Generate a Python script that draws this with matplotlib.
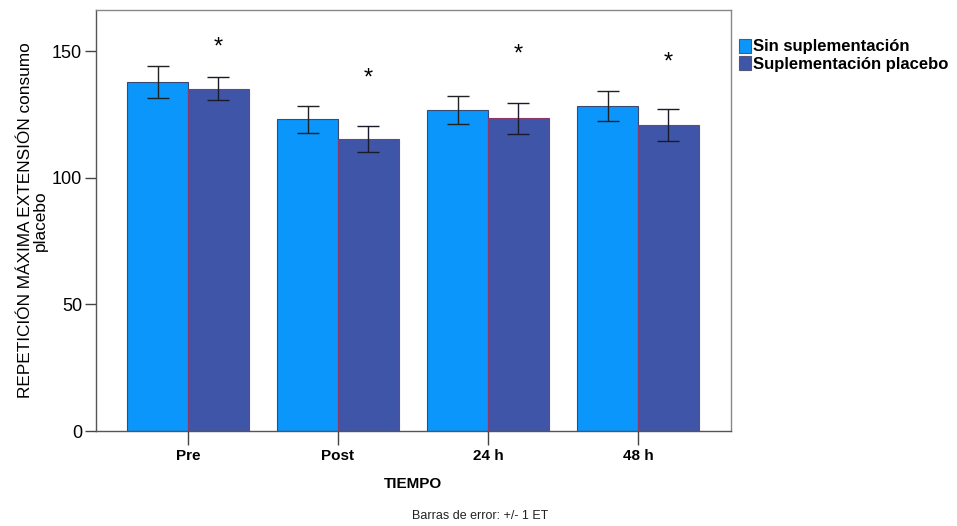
import matplotlib
matplotlib.use("Agg")
import matplotlib.pyplot as plt
import numpy as np

plt.rcParams['font.family'] = ['Liberation Sans', 'DejaVu Sans']

categories = ["Pre", "Post", "24 h", "48 h"]
series_names = ["Sin suplementación", "Suplementación placebo"]
sin_supl = [137.6, 123.0, 126.7, 128.3]
sin_supl_err = [6.3, 5.3, 5.5, 5.8]
placebo = [135.2, 115.4, 123.4, 120.8]
placebo_err = [4.6, 5.1, 6.2, 6.3]
# heights of the significance marks above each group
star_y = [151.2, 139.0, 148.5, 145.5]

c_light = "#0A96FA"
c_dark = "#3F56A8"

fig = plt.figure(figsize=(9.57, 5.26), dpi=100)
ax = fig.add_axes([96 / 957, 1 - 431 / 526, (731 - 96) / 957, (431 - 10) / 526])

x = np.arange(len(categories))
w = 0.405
ax.bar(x - w / 2, sin_supl, w, color=c_light, edgecolor="#3A4A70", linewidth=0.8,
       label=series_names[0], zorder=2)
ax.bar(x + w / 2, placebo, w, color=c_dark, edgecolor="#8A3A6A", linewidth=0.8,
       label=series_names[1], zorder=2)
ax.errorbar(x - w / 2, sin_supl, yerr=sin_supl_err, fmt="none", ecolor="#222222",
            elinewidth=1.0, capsize=8, capthick=1.0, zorder=3)
ax.errorbar(x + w / 2, placebo, yerr=placebo_err, fmt="none", ecolor="#1a1a2a",
            elinewidth=1.0, capsize=8, capthick=1.0, zorder=3)

for xi, yi in zip(x, star_y):
    ax.text(xi + w / 2, yi, "*", ha="center", va="center", fontsize=17, color="black")

ax.set_xlim(-0.613, 3.62)
ax.set_ylim(0, 166.2)
ax.set_yticks([0, 50, 100, 150])
ax.set_xticks(x)
ax.set_xticklabels(categories, fontsize=11, fontweight="bold")
ax.tick_params(axis="y", labelsize=13, length=8, width=1, color="#444444", pad=2)
ax.tick_params(axis="x", length=10, width=1, color="#444444", pad=3)
for s in ax.spines.values():
    s.set_color("#555555")
    s.set_linewidth(1.0)
ax.spines["right"].set_color("#888888")
ax.spines["top"].set_color("#888888")

ax.set_xlabel("TIEMPO", fontsize=11, fontweight="bold", labelpad=10)
ax.set_ylabel("REPETICIÓN MÁXIMA EXTENSIÓN consumo\nplacebo", fontsize=12.4,
              labelpad=3, linespacing=0.95)

leg = fig.legend(loc="upper left", bbox_to_anchor=(732 / 957, 1 - 32 / 526),
                 frameon=False, fontsize=12, handlelength=0.75, handleheight=0.9,
                 handletextpad=0.12, labelspacing=0.12, borderaxespad=0)
for t in leg.get_texts():
    t.set_fontweight("bold")
for h in leg.legend_handles:
    h.set_edgecolor("#555577")

fig.text(480 / 957, 1 - 516 / 526, "Barras de error: +/- 1 ET", ha="center",
         va="center", fontsize=9, fontstretch="condensed", color="#222222")

fig.savefig("out.png", dpi=100)
